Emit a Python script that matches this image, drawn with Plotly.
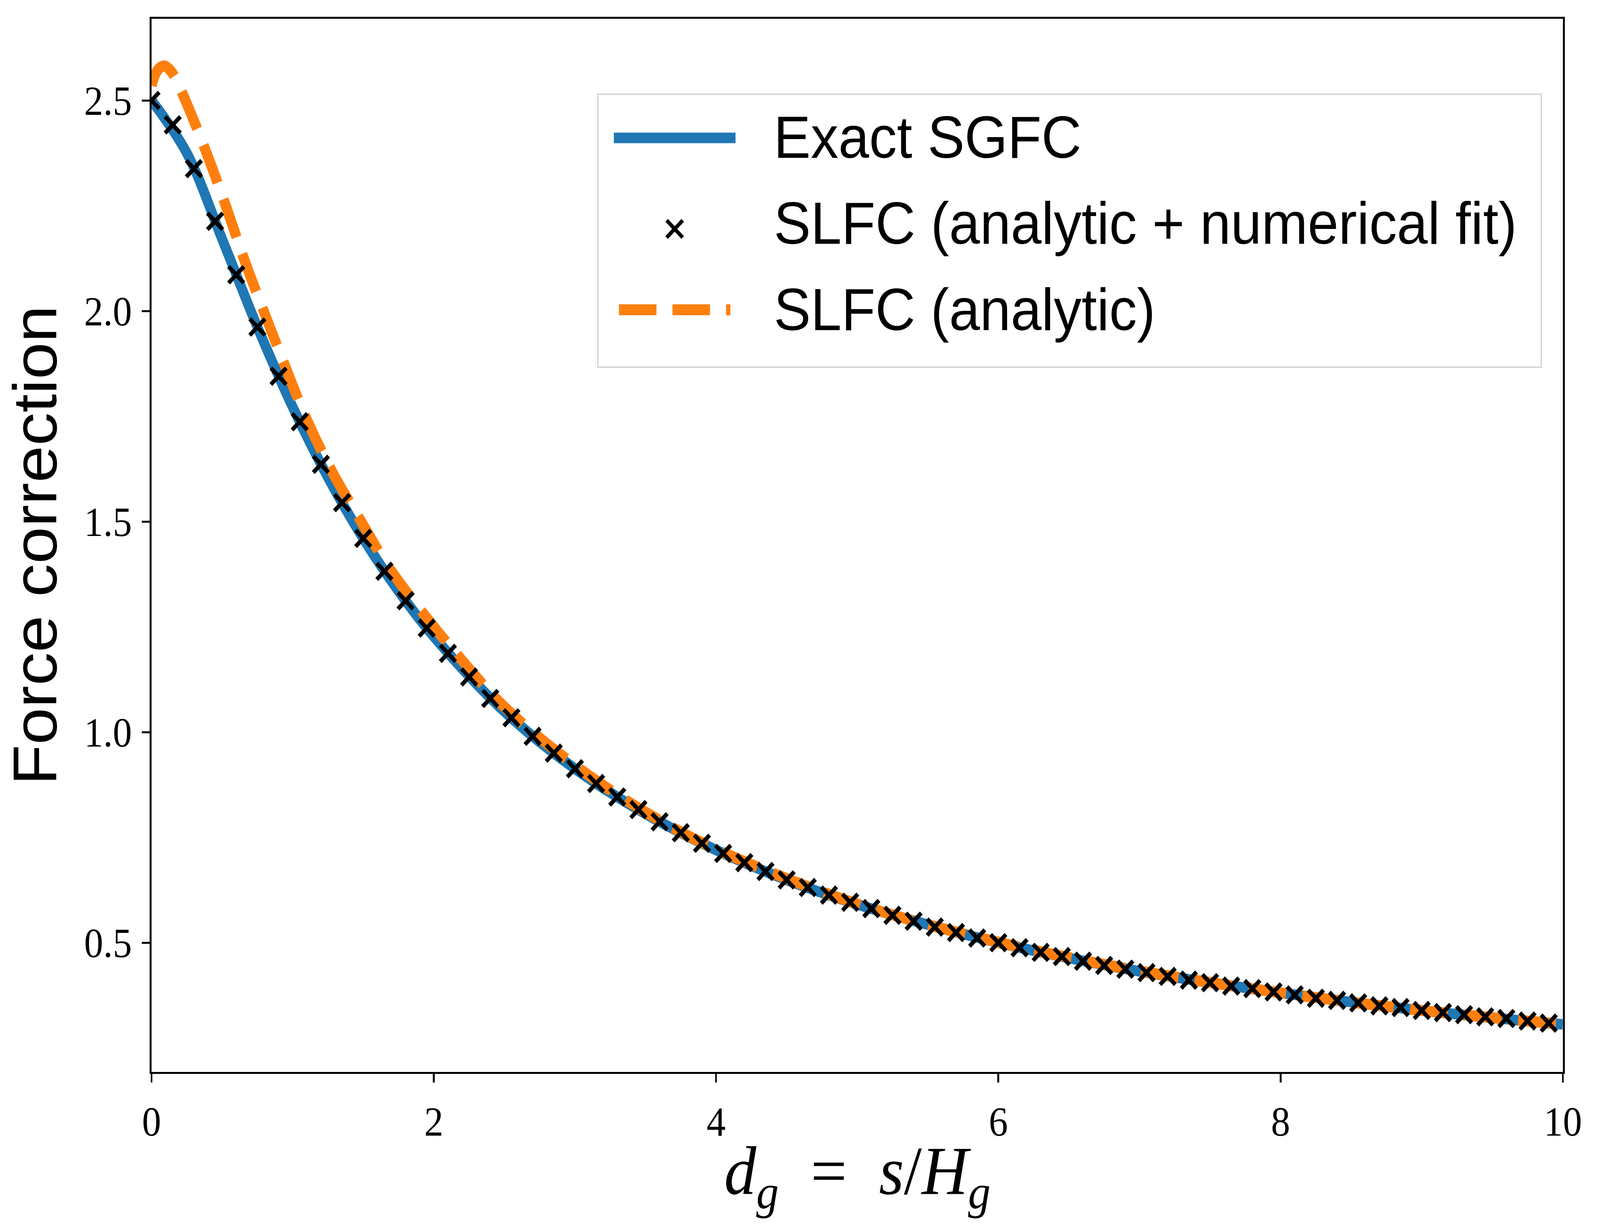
import plotly.graph_objects as go

# marker samples (SLFC, analytic + numerical fit)
fit_x = [0.0, 0.15, 0.3, 0.45, 0.6, 0.75, 0.9, 1.05, 1.2, 1.35, 1.5, 1.65, 1.8, 1.95,
         2.1, 2.25, 2.4, 2.55, 2.7, 2.85, 3.0, 3.15, 3.3, 3.45, 3.6, 3.75, 3.9, 4.05,
         4.2, 4.35, 4.5, 4.65, 4.8, 4.95, 5.1, 5.25, 5.4, 5.55, 5.7, 5.85, 6.0, 6.15,
         6.3, 6.45, 6.6, 6.75, 6.9, 7.05, 7.2, 7.35, 7.5, 7.65, 7.8, 7.95, 8.1, 8.25,
         8.4, 8.55, 8.7, 8.85, 9.0, 9.15, 9.3, 9.45, 9.6, 9.75, 9.9]
fit_y = [2.500, 2.442, 2.338, 2.213, 2.086, 1.962, 1.845, 1.737, 1.636, 1.545, 1.460,
         1.382, 1.312, 1.247, 1.187, 1.131, 1.080, 1.034, 0.990, 0.950, 0.913, 0.878,
         0.846, 0.816, 0.787, 0.761, 0.736, 0.712, 0.690, 0.669, 0.649, 0.631, 0.613,
         0.596, 0.581, 0.565, 0.551, 0.537, 0.524, 0.511, 0.500, 0.488, 0.477, 0.467,
         0.456, 0.446, 0.437, 0.429, 0.420, 0.411, 0.405, 0.397, 0.391, 0.383, 0.376,
         0.368, 0.363, 0.357, 0.350, 0.346, 0.339, 0.334, 0.329, 0.324, 0.320, 0.314,
         0.309]

# exact SGFC curve
exact_x = [0, 0.25, 0.5, 0.75, 1.0, 1.25, 1.5, 1.75, 2.0, 2.5, 3.0, 3.5, 4.0, 4.5,
           5.0, 6.0, 7.0, 8.0, 9.0, 10.0]
exact_y = [2.500, 2.375, 2.171, 1.962, 1.772, 1.605, 1.460, 1.335, 1.227, 1.049,
           0.913, 0.806, 0.720, 0.649, 0.591, 0.500, 0.432, 0.381, 0.339, 0.306]

# SLFC analytic curve
analytic_x = [0, 0.03, 0.06, 0.09, 0.12, 0.16, 0.24, 0.39, 0.53, 0.66, 0.8, 0.95,
              1.1, 1.28, 1.48, 1.68, 1.92, 2.15, 2.5, 3.0, 3.5, 4.0, 5.0, 6.0, 7.0,
              8.0, 9.0, 10.0]
analytic_y = [2.535, 2.565, 2.578, 2.582, 2.576, 2.558, 2.500, 2.375, 2.246, 2.119,
              1.995, 1.866, 1.742, 1.618, 1.503, 1.392, 1.284, 1.190, 1.060, 0.921,
              0.810, 0.722, 0.592, 0.501, 0.433, 0.381, 0.339, 0.306]

names = ['Exact SGFC', 'SLFC (analytic + numerical fit)', 'SLFC (analytic)']

BLUE = '#1f77b4'
ORANGE = '#ff7f0e'
W, H = 4392, 3146
L, R, T, B = 416, 102, 48, 402

fig = go.Figure()
fig.add_trace(go.Scatter(x=exact_x, y=exact_y, mode='lines', name=names[0],
                         line=dict(color=BLUE, width=27, shape='spline'),
                         showlegend=False))
fig.add_trace(go.Scatter(x=analytic_x, y=analytic_y, mode='lines', name=names[2],
                         line=dict(color=ORANGE, width=28, shape='spline', dash='104px,45px'),
                         showlegend=False))
fig.add_trace(go.Scatter(x=fit_x, y=fit_y, mode='markers', name=names[1],
                         marker=dict(symbol='x-thin', size=42, color='black',
                                     line=dict(color='black', width=11)),
                         showlegend=False))

axis_common = dict(showline=True, linecolor='black', linewidth=5, mirror=True,
                   ticks='outside', ticklen=22, tickwidth=5, tickcolor='black',
                   showgrid=False, zeroline=False,
                   tickfont=dict(family='Liberation Serif', size=105, color='black'))

fig.update_xaxes(range=[0, 10], tickvals=[0, 2, 4, 6, 8, 10], ticklabelstandoff=10,
                 **axis_common)
fig.update_yaxes(range=[0.193, 2.694], tickvals=[0.5, 1.0, 1.5, 2.0, 2.5], tickformat='.1f',
                 ticklabelstandoff=6,
                 title=dict(text='Force correction',
                            font=dict(family='Liberation Sans', size=170, color='black'),
                            standoff=28),
                 **axis_common)


# paper coordinates from figure pixels
def px(X):
    return (X - L) / (W - L - R)


def py(Y):
    return (H - B - Y) / (H - T - B)


# x axis title
fig.add_annotation(text='<i>d</i><sub><i>g</i></sub>\u2002=\u2002<i>s</i>/<i>H</i><sub><i>g</i></sub>',
                   xref='paper', yref='paper', x=0.5, y=py(3009),
                   xanchor='center', yanchor='middle', showarrow=False,
                   font=dict(family='Liberation Serif', size=176, color='black'))

# legend drawn by hand so the sample lines keep their real widths
fig.add_shape(type='rect', xref='paper', yref='paper',
              x0=px(1641), x1=px(4231), y0=py(940), y1=py(241),
              line=dict(color='#cccccc', width=3), fillcolor='rgba(255,255,255,0.8)',
              layer='above')
fig.add_shape(type='line', xref='paper', yref='paper',
              x0=px(1685), x1=px(2019), y0=py(353), y1=py(353),
              line=dict(color=BLUE, width=27), layer='above')
fig.add_shape(type='line', xref='paper', yref='paper',
              x0=px(1699), x1=px(2005), y0=py(793), y1=py(793),
              line=dict(color=ORANGE, width=28, dash='103px,44px'), layer='above')
for sx in (-1, 1):
    fig.add_shape(type='line', xref='paper', yref='paper',
                  x0=px(1852 - 22), x1=px(1852 + 22), y0=py(586 - 22 * sx), y1=py(586 + 22 * sx),
                  line=dict(color='black', width=10), layer='above')
for name, yy in zip(names, [351, 571, 792]):
    fig.add_annotation(text=name, xref='paper', yref='paper', x=px(2122), y=py(yy),
                       xanchor='left', yanchor='middle', showarrow=False,
                       font=dict(family='Liberation Sans', size=152, color='black'))

fig.update_layout(
    width=W, height=H,
    margin=dict(l=L, r=R, t=T, b=B),
    plot_bgcolor='white', paper_bgcolor='white',
    showlegend=False,
)

# the page viewport can be narrower than the figure: stretch it to fill the window
post = """
document.body.style.margin = '0';
document.body.style.overflow = 'hidden';
var gd = document.getElementById('{plot_id}');
var sx = window.innerWidth / 4392, sy = window.innerHeight / 3146;
gd.style.transformOrigin = '0 0';
gd.style.transform = 'scale(' + sx + ',' + sy + ')';
"""

fig.write_html('out.html', post_script=post, config={'displayModeBar': False})
